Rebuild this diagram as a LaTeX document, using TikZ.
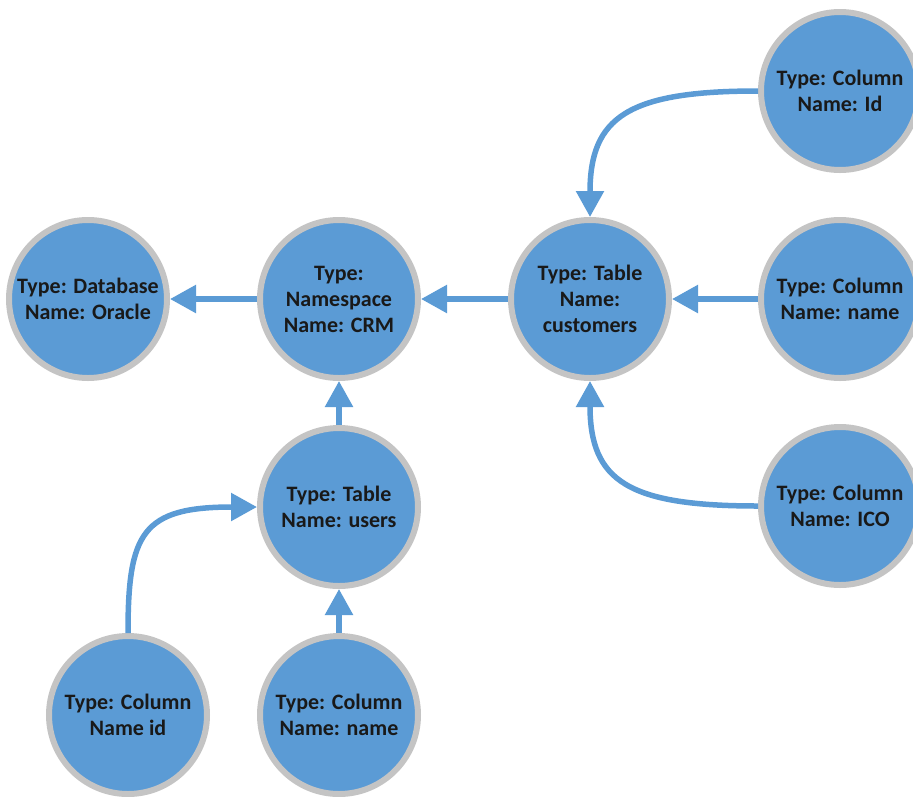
\documentclass[tikz,border=0pt]{standalone}
\usepackage{fontspec}
\setmainfont{Carlito}
\usetikzlibrary{arrows.meta}
\definecolor{nodeblue}{HTML}{5B9BD5}
\definecolor{ringgray}{HTML}{C4C4C4}
\begin{document}
\begin{tikzpicture}[x=1pt,y=-1pt,
  entity/.style={circle, fill=nodeblue, draw=ringgray, line width=6pt,
    minimum size=158pt, inner sep=0pt, align=center,
    font=\fontsize{22}{26}\selectfont\bfseries, text=black!90},
  link/.style={draw=nodeblue, line width=5.5pt,
    -{Triangle[length=26pt,width=27pt]}}]
  \useasboundingbox (0,0) rectangle (913,796);
  \clip (0,0) rectangle (913,796);

  % entities
  \node[entity] (db)    at (88,299)  {Type: Database\\Name: Oracle};
  \node[entity] (ns)    at (339,299) {Type:\\Namespace\\Name: CRM};
  \node[entity] (cust)  at (590,299) {Type: Table\\Name:\\customers};
  \node[entity] (colId) at (840,91)  {Type: Column\\Name: Id};
  \node[entity] (colNm) at (840,299) {Type: Column\\Name: name};
  \node[entity] (colIco) at (840,506) {Type: Column\\Name: ICO};
  \node[entity] (users) at (339,507) {Type: Table\\Name: users};
  \node[entity] (uId)   at (128,715) {Type: Column\\Name id};
  \node[entity] (uNm)   at (339,715) {Type: Column\\Name: name};

  % straight links
  \draw[link] (ns.west) -- (db.east);
  \draw[link] (cust.west) -- (ns.east);
  \draw[link] (colNm.west) -- (cust.east);
  \draw[link] (users.north) -- (ns.south);
  \draw[link] (uNm.north) -- (users.south);

  % curved links
  \draw[link] (colId.west) .. controls +(-130,0) and +(0,-100) .. (cust.north);
  \draw[link] (colIco.west) .. controls +(-130,0) and +(0,100) .. (cust.south);
  \draw[link] (uId.north) .. controls +(0,-100) and +(-115,0) .. (users.west);
\end{tikzpicture}
\end{document}
